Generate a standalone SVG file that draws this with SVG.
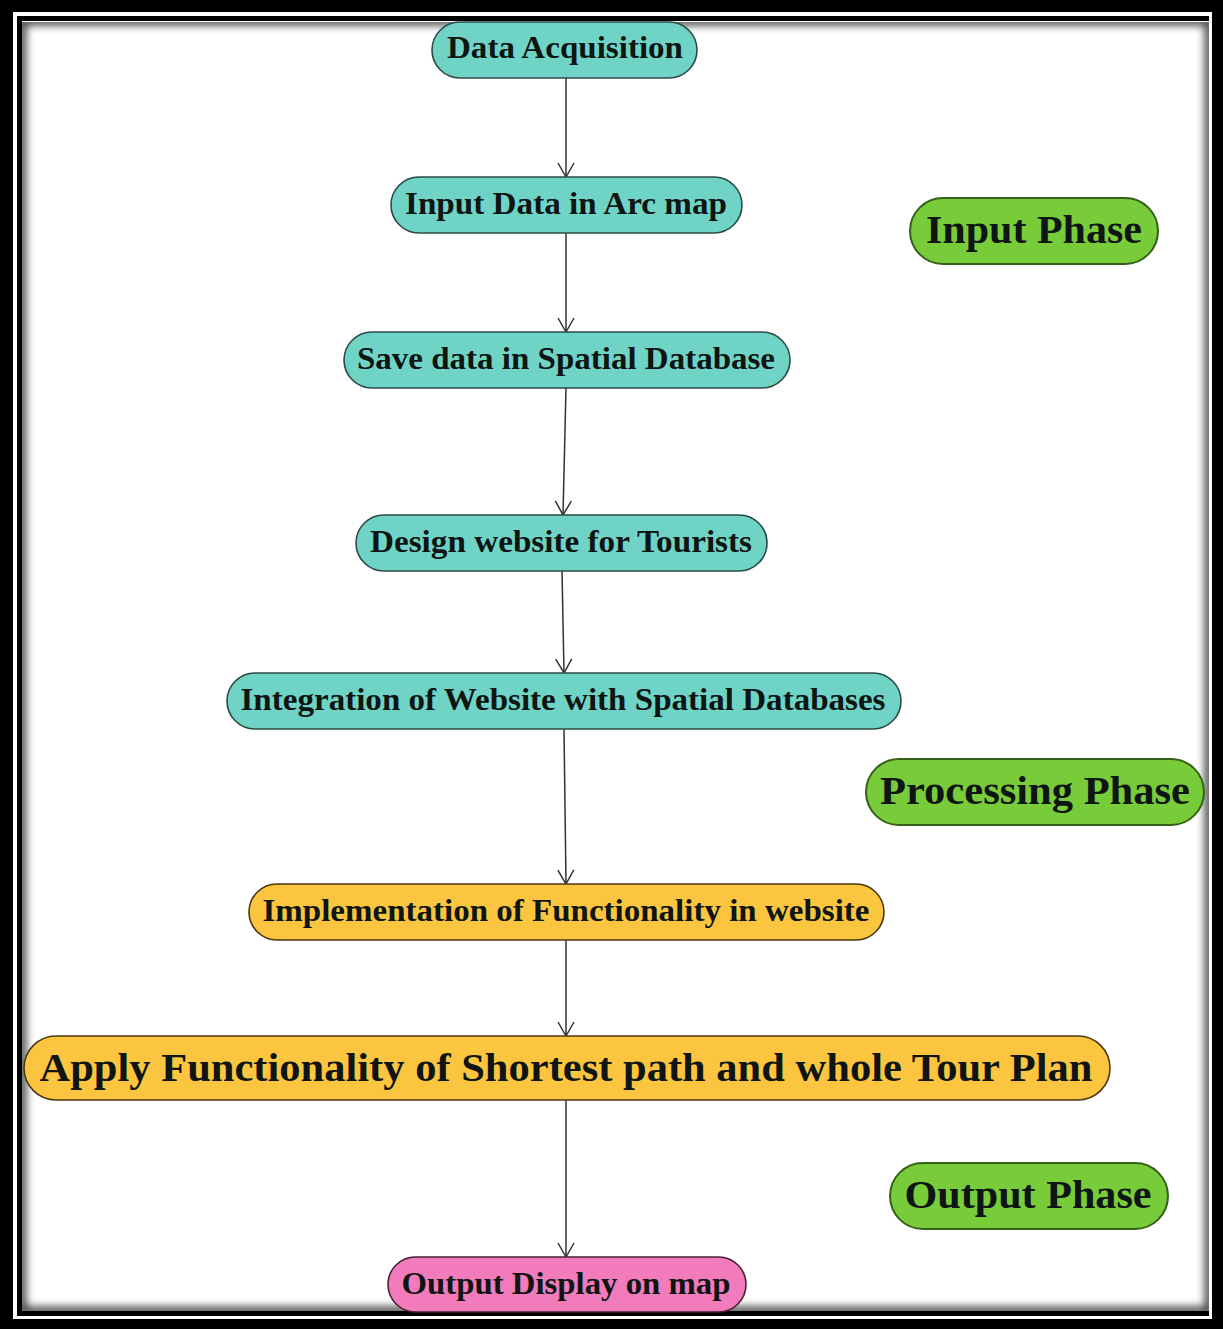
<svg xmlns="http://www.w3.org/2000/svg" width="1223" height="1329" viewBox="0 0 1223 1329">
  <defs>
    <style>
      .node rect { stroke-width: 1.6; }
      .teal rect { fill: #6fd4c6; stroke: #2b4a45; }
      .orange rect { fill: #fcc53f; stroke: #4a3a10; }
      .pink rect { fill: #f17bbb; stroke: #4a1f35; }
      .phase rect { fill: #78cc3a; stroke: #35601a; stroke-width: 2; }
      text { font-family: "Liberation Serif", "Times New Roman", serif; font-weight: bold; text-anchor: middle; fill: #0e1512; }
      .n { font-size: 31px; }
      .big { font-size: 39px; }
      .ph { font-size: 40px; }
      .edges line { stroke: #333; stroke-width: 1.5; fill: none; }
    </style>
    <marker id="arrow" viewBox="0 0 20 20" refX="16" refY="10" markerWidth="20" markerHeight="20" markerUnits="userSpaceOnUse" orient="auto">
      <path d="M2,2 L16,10 L2,18" fill="none" stroke="#333" stroke-width="1.5"/>
    </marker>
    <filter id="soft" x="-5%" y="-5%" width="110%" height="110%">
      <feGaussianBlur stdDeviation="4"/>
    </filter>
    <clipPath id="inner">
      <rect x="22" y="22" width="1187" height="1289"/>
    </clipPath>
  </defs>

  <!-- page frame -->
  <rect x="0" y="0" width="1223" height="1329" fill="#000"/>
  <rect x="13" y="12" width="1199" height="1307" fill="#fff"/>
  <rect x="17" y="16" width="1192" height="1300" fill="#000"/>
  <rect x="22" y="21" width="1187" height="1290" fill="#fff"/>
  <g clip-path="url(#inner)">
    <rect x="22" y="21" width="1187" height="1290" fill="none" stroke="#000" stroke-width="8" filter="url(#soft)" opacity="0.8"/>
  </g>

  <!-- connectors -->
  <g class="edges">
    <line x1="566" y1="78" x2="566" y2="177" marker-end="url(#arrow)"/>
    <line x1="566" y1="233" x2="566" y2="332" marker-end="url(#arrow)"/>
    <line x1="566" y1="388" x2="563" y2="515" marker-end="url(#arrow)"/>
    <line x1="562" y1="571" x2="564" y2="673" marker-end="url(#arrow)"/>
    <line x1="564" y1="729" x2="566" y2="884" marker-end="url(#arrow)"/>
    <line x1="566" y1="940" x2="566" y2="1036" marker-end="url(#arrow)"/>
    <line x1="566" y1="1100" x2="566" y2="1257" marker-end="url(#arrow)"/>
  </g>

  <!-- process nodes -->
  <g id="data-acquisition" class="node teal">
    <rect x="432" y="22" width="265" height="56" rx="28"/>
    <text class="n" x="565" y="58" textLength="236" lengthAdjust="spacingAndGlyphs">Data Acquisition</text>
  </g>
  <g id="input-data" class="node teal">
    <rect x="391" y="177" width="351" height="56" rx="28"/>
    <text class="n" x="566" y="214" textLength="322" lengthAdjust="spacingAndGlyphs">Input Data in Arc map</text>
  </g>
  <g id="save-data" class="node teal">
    <rect x="344" y="332" width="446" height="56" rx="28"/>
    <text class="n" x="566" y="369" textLength="418" lengthAdjust="spacingAndGlyphs">Save data in Spatial Database</text>
  </g>
  <g id="design-website" class="node teal">
    <rect x="356" y="515" width="411" height="56" rx="28"/>
    <text class="n" x="561" y="552" textLength="382" lengthAdjust="spacingAndGlyphs">Design website for Tourists</text>
  </g>
  <g id="integration" class="node teal">
    <rect x="227" y="673" width="674" height="56" rx="28"/>
    <text class="n" x="563" y="710" textLength="645" lengthAdjust="spacingAndGlyphs">Integration of Website with Spatial Databases</text>
  </g>
  <g id="implementation" class="node orange">
    <rect x="249" y="884" width="635" height="56" rx="28"/>
    <text class="n" x="566" y="921" textLength="607" lengthAdjust="spacingAndGlyphs">Implementation of Functionality in website</text>
  </g>
  <g id="apply-functionality" class="node orange">
    <rect x="24" y="1036" width="1086" height="64" rx="32"/>
    <text class="big" x="566" y="1081" textLength="1053" lengthAdjust="spacingAndGlyphs">Apply Functionality of Shortest path and whole Tour Plan</text>
  </g>
  <g id="output-display" class="node pink">
    <rect x="388" y="1257" width="358" height="55" rx="27.5"/>
    <text class="n" x="566" y="1294" textLength="329" lengthAdjust="spacingAndGlyphs">Output Display on map</text>
  </g>

  <!-- phase labels -->
  <g id="input-phase" class="node phase">
    <rect x="910" y="198" width="248" height="66" rx="33"/>
    <text class="ph" x="1034" y="243" textLength="216" lengthAdjust="spacingAndGlyphs">Input Phase</text>
  </g>
  <g id="processing-phase" class="node phase">
    <rect x="866" y="759" width="338" height="66" rx="33"/>
    <text class="ph" x="1035" y="804" textLength="310" lengthAdjust="spacingAndGlyphs">Processing Phase</text>
  </g>
  <g id="output-phase" class="node phase">
    <rect x="890" y="1163" width="278" height="66" rx="33"/>
    <text class="ph" x="1028" y="1208" textLength="247" lengthAdjust="spacingAndGlyphs">Output Phase</text>
  </g>
</svg>
